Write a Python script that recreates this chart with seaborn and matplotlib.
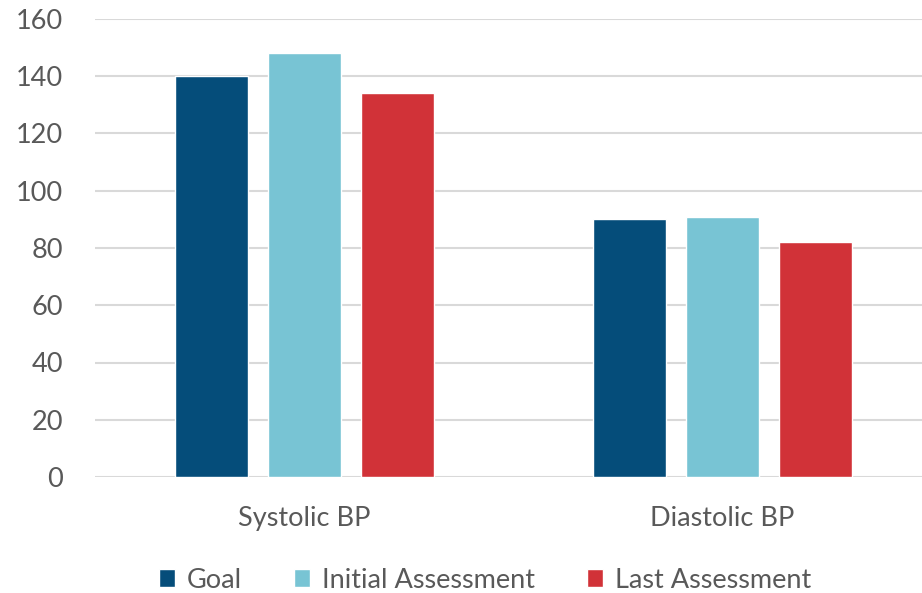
import matplotlib
matplotlib.use("Agg")
import matplotlib.pyplot as plt
import seaborn as sns
import pandas as pd

categories = ["Systolic BP", "Diastolic BP"]
series = ["Goal", "Initial Assessment", "Last Assessment"]
goal = [140, 90]
initial = [148, 91]
last = [134, 82]
colors = ["#054D7A", "#78C4D4", "#D13238"]

rows = []
for name, vals in zip(series, [goal, initial, last]):
    for cat, v in zip(categories, vals):
        rows.append({"Measure": cat, "Series": name, "Value": v})
df = pd.DataFrame(rows)

sns.set_theme(style="white")
plt.rcParams["font.family"] = ["Lato", "DejaVu Sans"]
text_color = "#595959"
fs = 19.5

fig = plt.figure(figsize=(9.22, 5.93), dpi=100)
ax = fig.add_axes([95 / 922, 1 - 477 / 593, (922 - 95) / 922, 458 / 593])

sns.barplot(data=df, x="Measure", y="Value", hue="Series", order=categories,
            hue_order=series, palette=colors, width=0.6675, gap=0.215,
            saturation=1, ax=ax, legend=True)

ax.set_ylim(0, 160)
ax.set_yticks(range(0, 161, 20))
ax.set_xlim(-0.5, 1.478)
ax.yaxis.grid(True, color="#D9D9D9", linewidth=1.5)
ax.set_axisbelow(True)
for s in ax.spines.values():
    s.set_visible(False)
ax.set_xlabel("")
ax.set_ylabel("")
ax.tick_params(axis="y", length=0, pad=23, labelsize=fs, labelcolor=text_color)
ax.tick_params(axis="x", length=0, pad=21, labelsize=fs, labelcolor=text_color)

handles, labels = ax.get_legend_handles_labels()
ax.get_legend().remove()
fig.legend(handles, labels, loc="center", bbox_to_anchor=(0.526, 1 - 580 / 593),
           ncol=3, frameon=False, fontsize=fs, labelcolor=text_color,
           handlelength=0.6, handleheight=0.6, handletextpad=0.45,
           columnspacing=1.9)

fig.savefig("out.png", dpi=100)
